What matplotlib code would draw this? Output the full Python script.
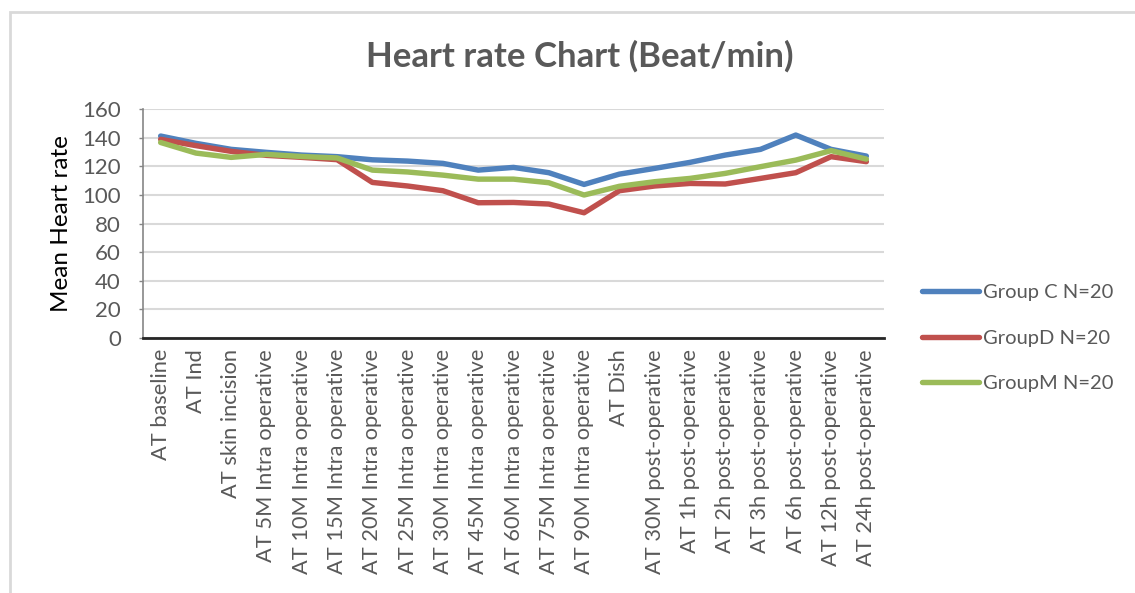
import matplotlib
matplotlib.use("Agg")
import matplotlib.pyplot as plt
from matplotlib.patches import Rectangle
import numpy as np

categories = [
    "AT baseline", "AT Ind", "AT skin incision",
    "AT 5M Intra operative", "AT 10M Intra operative", "AT 15M Intra operative",
    "AT 20M Intra operative", "AT 25M Intra operative", "AT 30M Intra operative",
    "AT 45M Intra operative", "AT 60M Intra operative", "AT 75M Intra operative",
    "AT 90M Intra operative", "AT Dish", "AT 30M post-operative",
    "AT 1h post-operative", "AT 2h post-operative", "AT 3h post-operative",
    "AT 6h post-operative", "AT 12h post-operative", "AT 24h post-operative",
]
group_c = [141.1, 136.0, 131.8, 129.7, 127.8, 126.7, 124.5, 123.6, 122.0, 117.3,
           119.2, 115.5, 107.3, 114.5, 118.5, 122.7, 127.8, 131.8, 141.8, 131.8, 127.1]
group_d = [138.8, 134.4, 130.4, 127.6, 126.2, 124.6, 108.7, 106.2, 102.9, 94.5,
           94.7, 93.6, 87.5, 102.9, 106.2, 108.0, 107.6, 111.5, 115.5, 126.7, 123.2]
group_m = [136.6, 129.2, 126.2, 128.3, 126.8, 125.8, 117.3, 116.0, 113.8, 111.0,
           111.0, 108.5, 99.9, 106.0, 109.2, 111.5, 115.0, 119.7, 124.3, 130.9, 125.0]
series_names = ["Group C N=20", "GroupD N=20", "GroupM N=20"]
series_colors = ["#4f81bd", "#c0504d", "#9bbb59"]
yticks = [0, 20, 40, 60, 80, 100, 120, 140, 160]

plt.rcParams['font.family'] = ['Lato', 'DejaVu Sans']
W, H = 1135, 593
fig = plt.figure(figsize=(W / 100, H / 100), dpi=100)
fig.patch.set_facecolor("white")

# outer chart border
fig.patches.append(Rectangle((10 / W, -0.1), 1.2, 1 - 12 / H + 0.1,
                             transform=fig.transFigure, fill=False,
                             edgecolor="#d9d9d9", linewidth=2.0))

ax = fig.add_axes([143 / W, 1 - 338 / H, (884 - 143) / W, (338 - 109) / H])
x = np.arange(len(categories))
for vals, name, col in zip([group_c, group_d, group_m], series_names, series_colors):
    ax.plot(x, vals, color=col, linewidth=3.9, label=name, solid_capstyle="round",
            solid_joinstyle="round")

ax.set_xlim(-0.5, len(categories) - 0.5)
ax.set_ylim(0, 160)
ax.set_yticks(yticks)
ax.set_xticks(x)
ax.set_xticklabels(categories, rotation=90, fontsize=15.7, color="#595959")
ax.tick_params(axis="x", length=0, pad=8)
ax.tick_params(axis="y", labelsize=16, colors="#595959", length=3, width=1,
               color="#868686", pad=13)
ax.grid(axis="y", color="#d9d9d9", linewidth=1.5)
ax.set_axisbelow(True)
for s in ["top", "right"]:
    ax.spines[s].set_visible(False)
ax.spines["left"].set_color("#868686")
ax.spines["left"].set_linewidth(1.2)
ax.spines["bottom"].set_color("#262626")
ax.spines["bottom"].set_linewidth(2.0)
ax.set_ylabel("Mean Heart rate", fontsize=17.5, color="black", labelpad=7)

fig.text(580 / W, 1 - 56 / H, "Heart rate Chart (Beat/min)", ha="center", va="center",
         fontsize=25, fontweight="bold", color="#595959")

leg = ax.legend(loc="center left", bbox_to_anchor=(904 / W, 1 - 338 / H),
                bbox_transform=fig.transFigure, frameon=False, fontsize=14.5,
                handlelength=2.8, handletextpad=0.2, labelspacing=1.42)
for t in leg.get_texts():
    t.set_color("#595959")

fig.savefig("out.png", dpi=100)
